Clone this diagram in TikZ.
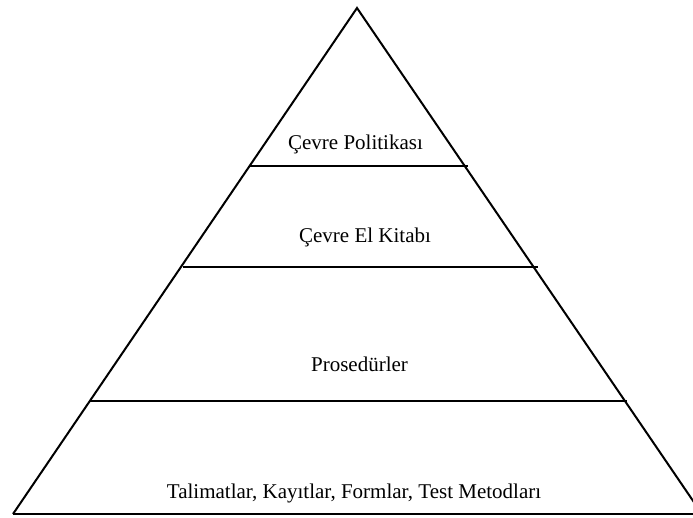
\documentclass[tikz,border=0pt]{standalone}
\usepackage{fontspec}
\setmainfont{Liberation Serif}
\begin{document}
\begin{tikzpicture}[x=1pt,y=-1pt,
  edge/.style={line width=2pt,line join=miter},
  label/.style={anchor=base,inner sep=0pt,font=\fontsize{21}{25}\selectfont}]
\useasboundingbox (0,0) rectangle (693,518);
\begin{scope}
\clip (0,0) rectangle (693,518);
% outline of the pyramid
\coordinate (apex) at (357,8);
\coordinate (bl) at (13,514);
\coordinate (br) at (702,514);
\draw[edge] (bl) -- (apex) -- (br);
\draw[edge] (bl) -- (705,514);
% dividing lines between levels
\coordinate (l1a) at (250,166.5);
\coordinate (l1b) at (468,166.5);
\coordinate (l2a) at (183,267);
\coordinate (l2b) at (538,267);
\coordinate (l3a) at (90,401);
\coordinate (l3b) at (627,401);
\draw[edge] (l1a) -- (l1b);
\draw[edge] (l2a) -- (l2b);
\draw[edge] (l3a) -- (l3b);
\end{scope}
% level labels
\node[label] (t1) at (355.5,150) {Çevre Politikası};
\node[label] (t2) at (365,243) {Çevre El Kitabı};
\node[label] (t3) at (359.5,371.5) {Prosedürler};
\node[label] (t4) at (354,498) {Talimatlar, Kayıtlar, Formlar, Test Metodları};
\end{tikzpicture}
\end{document}
